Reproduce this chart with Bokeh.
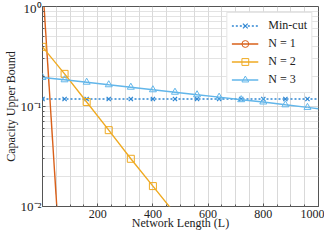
from bokeh.plotting import figure
from bokeh.models import Legend, LegendItem, FixedTicker, Range1d
from bokeh.embed import file_html
from bokeh.resources import INLINE

# ---- data ----
L_marks = [0, 80, 160, 240, 320, 400, 480, 560, 640, 720, 800, 880, 960]
mincut = [0.119] * 13
L_mincut_line = [0, 1000]
mincut_line = [0.119, 0.119]

n1_L = [0, 80]
n1_vals = [1.75, 0.0006]

n2_L = [0, 80, 160, 240, 320, 400, 480]
n2_vals = [0.395, 0.212, 0.111, 0.058, 0.030, 0.016, 0.0085]

n3_L = [0, 80, 160, 240, 320, 400, 480, 560, 640, 720, 800, 880, 960]
n3_vals = [0.195, 0.185, 0.175, 0.165, 0.156, 0.147, 0.139, 0.131, 0.124, 0.117, 0.111, 0.104, 0.098]
n3_L_end = [960, 1000]
n3_end = [0.098, 0.095]

x_ticks = [200, 400, 600, 800, 1000]
y_ticks = [0.01, 0.1, 1]
y_labels = {0.01: "10⁻²", 0.1: "10⁻¹", 1: "10⁰"}

FONT = "Liberation Serif"
C_MIN = "#2f87d3"
C_N1 = "#d9601a"
C_N2 = "#efaa22"
C_N3 = "#62b6ea"

p = figure(width=324, height=232, y_axis_type="log",
           x_range=Range1d(0, 1000), y_range=Range1d(0.01, 1),
           output_backend="svg", toolbar_location=None,
           min_border_left=42, min_border_right=6, min_border_top=6, min_border_bottom=24)

p.outline_line_color = "#555555"
p.outline_line_width = 1

# grid
p.xgrid.ticker = FixedTicker(ticks=list(range(0, 1001, 50)))
p.xgrid.grid_line_color = "#cfcfcf"
p.xgrid.grid_line_width = 0.8
p.ygrid.grid_line_color = "#cfcfcf"
p.ygrid.grid_line_width = 0.8
p.ygrid.minor_grid_line_color = "#dcdcdc"
p.ygrid.minor_grid_line_width = 0.8

# axes
p.xaxis.ticker = FixedTicker(ticks=x_ticks, minor_ticks=list(range(0, 1001, 50)))
p.yaxis.ticker = FixedTicker(ticks=y_ticks,
                             minor_ticks=[v * m for v in [0.01, 0.1] for m in range(2, 10)])
p.yaxis.major_label_overrides = y_labels
for ax in (p.xaxis, p.yaxis):
    ax.axis_line_color = None
    ax.major_tick_in = 3
    ax.major_tick_out = 0
    ax.minor_tick_in = 2
    ax.minor_tick_out = 0
    ax.major_tick_line_color = "#555555"
    ax.minor_tick_line_color = "#555555"
    ax.major_label_text_font = FONT
    ax.major_label_text_font_size = "12px"
    ax.major_label_text_color = "#222222"
    ax.axis_label_text_font = FONT
    ax.axis_label_text_font_size = "12px"
    ax.axis_label_text_font_style = "normal"
    ax.axis_label_text_color = "#222222"
    ax.major_label_standoff = 1
    ax.axis_label_standoff = 0
p.xaxis.major_label_standoff = 3
p.xaxis.axis_label_standoff = -5
p.yaxis.major_label_text_font_size = "13px"
p.xaxis.axis_label = "Network Length (L)"
p.yaxis.axis_label = "Capacity Upper Bound"

# series
r_min_l = p.line(L_mincut_line, mincut_line, line_color=C_MIN, line_width=1.6, line_dash="2 2")
r_min_m = p.scatter(L_marks, mincut, marker="x", size=6, line_color=C_MIN, line_width=1.2)

r_n1_l = p.line(n1_L, n1_vals, line_color=C_N1, line_width=1.4)
r_n1_m = p.scatter(n1_L, n1_vals, marker="circle", size=6, line_color=C_N1, fill_color=None, line_width=1)

r_n2_l = p.line(n2_L, n2_vals, line_color=C_N2, line_width=1.4)
r_n2_m = p.scatter(n2_L, n2_vals, marker="square", size=7, line_color=C_N2, fill_color=None, line_width=1)

r_n3_l = p.line(n3_L, n3_vals, line_color=C_N3, line_width=1.4)
r_n3_e = p.line(n3_L_end, n3_end, line_color=C_N3, line_width=1.4)
r_n3_m = p.scatter(n3_L, n3_vals, marker="triangle", size=7, line_color=C_N3, fill_color=None, line_width=1)

legend = Legend(items=[
    LegendItem(label="Min-cut", renderers=[r_min_l, r_min_m]),
    LegendItem(label="N = 1", renderers=[r_n1_l, r_n1_m]),
    LegendItem(label="N = 2", renderers=[r_n2_l, r_n2_m]),
    LegendItem(label="N = 3", renderers=[r_n3_l, r_n3_m]),
], location="top_right")
legend.label_text_font = FONT
legend.label_text_font_size = "12px"
legend.label_text_color = "#222222"
legend.border_line_color = "#cccccc"
legend.border_line_width = 1
legend.background_fill_color = "white"
legend.background_fill_alpha = 1.0
legend.glyph_width = 27
legend.glyph_height = 17
legend.label_height = 17
legend.spacing = 1
legend.padding = 4
legend.margin = 6
legend.label_standoff = 10
p.add_layout(legend)

open("out.html", "w").write(file_html(p, INLINE))
